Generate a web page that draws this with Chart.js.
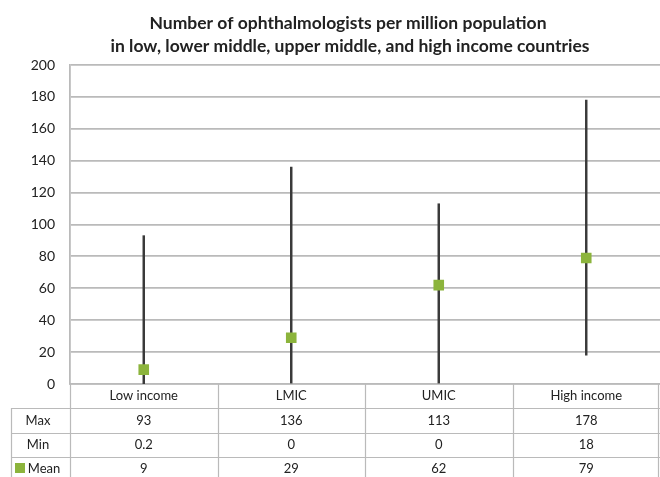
<!DOCTYPE html>
<html>
<head>
<meta charset="utf-8">
<script src="https://cdn.jsdelivr.net/npm/chart.js@4.4.0/dist/chart.umd.min.js"></script>
<style>
  body { margin: 0; background: #fff; overflow: hidden; }
</style>
</head>
<body>
<canvas id="chart" width="660" height="477"></canvas>
<script>
const categories = ["Low income", "LMIC", "UMIC", "High income"];
const maxValues = [93, 136, 113, 178];
const minValues = [0.2, 0, 0, 18];
const meanValues = [9, 29, 62, 79];
const rowLabels = ["Max", "Min", "Mean"];
const titleLines = [
    "Number of ophthalmologists per million population",
    "in low, lower middle, upper middle, and high income countries"
];

const green = "#8cb43c";
const lineGray = "#bababa";
const font = "Lato, 'Open Sans', sans-serif";

// floating bars used as the min-max whiskers
const ranges = minValues.map((v, i) => [v, maxValues[i]]);

const tablePlugin = {
    id: "dataTable",
    afterDraw(chart) {
        const ctx = chart.ctx;
        const x = chart.scales.x;
        const area = chart.chartArea;
        const step = x.getPixelForValue(1) - x.getPixelForValue(0);

        // title
        ctx.save();
        ctx.fillStyle = "#222";
        ctx.font = "bold 17.5px " + font;
        ctx.textAlign = "center";
        ctx.textBaseline = "middle";
        ctx.fillText(titleLines[0], 348, 23);
        ctx.fillText(titleLines[1], 350, 46);

        const top = area.bottom;
        const rowY = [top, 408, 433, 457, 481];
        const leftX = 11;

        ctx.strokeStyle = lineGray;
        ctx.lineWidth = 1.2;
        ctx.beginPath();
        // horizontal rules
        for (let r = 1; r < rowY.length - 1; r++) {
            ctx.moveTo(leftX, rowY[r] + 0.5);
            ctx.lineTo(660, rowY[r] + 0.5);
        }
        // vertical rules
        ctx.moveTo(leftX + 0.5, rowY[1]);
        ctx.lineTo(leftX + 0.5, 477);
        for (let i = 0; i <= categories.length; i++) {
            let px = Math.round(x.getPixelForValue(i) - step / 2) + 0.5;
            if (i === categories.length) px = 658.5;
            ctx.moveTo(px, top);
            ctx.lineTo(px, 477);
        }
        ctx.stroke();

        ctx.fillStyle = "#222";
        ctx.font = "13px " + font;
        const rows = [categories, maxValues, minValues, meanValues];
        rows.forEach((vals, r) => {
            const cy = (rowY[r] + rowY[r + 1]) / 2;
            vals.forEach((v, i) => {
                ctx.fillText(String(v), x.getPixelForValue(i), cy);
            });
            if (r > 0) {
                ctx.fillText(rowLabels[r - 1], r === 3 ? 44 : 38, cy);
            }
        });
        // legend key for Mean
        ctx.fillStyle = green;
        ctx.fillRect(15, rowY[3] + 6, 10, 10);
        ctx.restore();
    }
};

new Chart(document.getElementById("chart"), {
    type: "bar",
    data: {
        labels: categories,
        datasets: [
            {
                type: "line",
                label: "Mean",
                data: meanValues,
                showLine: false,
                pointStyle: "rect",
                pointRadius: 7.5,
                pointHoverRadius: 7.5,
                backgroundColor: green,
                borderColor: green,
                borderWidth: 0,
                order: 0
            },
            {
                label: "Range",
                data: ranges,
                backgroundColor: "#3a3a3a",
                barThickness: 1.8,
                borderSkipped: false,
                order: 1
            }
        ]
    },
    options: {
        responsive: false,
        animation: false,
        layout: {
            autoPadding: false,
            padding: { top: 65, bottom: 93, left: 0, right: 0 }
        },
        plugins: {
            legend: { display: false },
            title: { display: false },
            tooltip: { enabled: false }
        },
        scales: {
            x: {
                ticks: { display: false },
                grid: { display: false, drawTicks: false },
                border: { color: lineGray, width: 1.5 }
            },
            y: {
                min: 0,
                max: 200,
                afterFit(scale) { scale.width = 70; },
                ticks: {
                    stepSize: 20,
                    color: "#222",
                    padding: 15,
                    font: { family: font, size: 14 }
                },
                grid: { color: lineGray, lineWidth: 1.8, drawTicks: false },
                border: { color: lineGray, width: 1.8 }
            }
        }
    },
    plugins: [tablePlugin]
});
</script>
</body>
</html>
